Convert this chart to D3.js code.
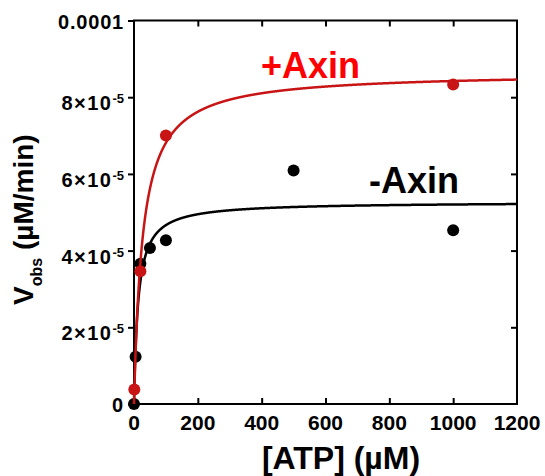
<!DOCTYPE html>
<html>
<head>
<meta charset="utf-8">
<script src="https://cdn.jsdelivr.net/npm/d3@7"></script>
<style>
  html, body { margin: 0; padding: 0; background: #fff; }
  svg { display: block; font-family: "Liberation Sans", Arial, Helvetica, sans-serif; font-weight: bold; }
</style>
</head>
<body>
<svg id="chart" width="545" height="476"></svg>
<script>
// Substrate concentrations (µM) and observed velocities (µM/min)
const atpMinus = [0, 5, 20, 50, 100, 500, 1000];
const vMinus = [0, 1.23e-5, 3.66e-5, 4.07e-5, 4.27e-5, 6.09e-5, 4.53e-5];
const atpPlus = [1, 20, 100, 1000];
const vPlus = [0.38e-5, 3.46e-5, 7.0e-5, 8.33e-5];

// Michaelis–Menten fit parameters [Vmax, Km]
const fitMinus = [5.27e-5, 13];
const fitPlus = [8.65e-5, 27];

const xTicks = [0, 200, 400, 600, 800, 1000, 1200];
const yTicks = [0, 2e-5, 4e-5, 6e-5, 8e-5, 1e-4];
const yTickMantissa = ["0", "2", "4", "6", "8", "0.0001"];

const svg = d3.select("#chart");
const plotL = 134, plotR = 517, plotT = 20.5, plotB = 404;

const x = d3.scaleLinear().domain([0, 1200]).range([plotL, plotR]);
const y = d3.scaleLinear().domain([0, 1e-4]).range([plotB, plotT]);

const red = "#c81414";

// Frame
svg.append("rect")
  .attr("x", plotL).attr("y", plotT)
  .attr("width", plotR - plotL).attr("height", plotB - plotT)
  .attr("fill", "none").attr("stroke", "#000").attr("stroke-width", 2);

// Axes: ticks only, labels drawn separately
function styleAxis(g) {
  g.select(".domain").remove();
  g.selectAll(".tick line").attr("stroke", "#000").attr("stroke-width", 2);
  g.selectAll(".tick text").remove();
}
svg.append("g").attr("transform", `translate(${plotL},0)`)
  .call(d3.axisLeft(y).tickValues(yTicks).tickSize(6)).call(styleAxis);
svg.append("g").attr("transform", `translate(${plotR},0)`)
  .call(d3.axisLeft(y).tickValues(yTicks.slice(1, -1)).tickSize(6)).call(styleAxis);
svg.append("g").attr("transform", `translate(0,${plotB})`)
  .call(d3.axisTop(x).tickValues(xTicks.slice(1, -1)).tickSize(6)).call(styleAxis);
svg.append("g").attr("transform", `translate(0,${plotT})`)
  .call(d3.axisBottom(x).tickValues(xTicks.slice(1, -1)).tickSize(6)).call(styleAxis);

// X tick labels
svg.append("g").selectAll("text").data(xTicks).join("text")
  .attr("x", d => x(d)).attr("y", 430)
  .attr("text-anchor", "middle").attr("font-size", 21)
  .text(d => d);

// Y tick labels (scientific notation with superscript exponents)
const yl = svg.append("g").selectAll("text").data(yTicks).join("text")
  .attr("text-anchor", "end").attr("font-size", 20)
  .attr("x", 124)
  .attr("y", (d, i) => y(d) + ((i === 0 || i === yTicks.length - 1) ? 8 : 13));
yl.each(function(d, i) {
  const t = d3.select(this);
  if (i === 0 || i === yTicks.length - 1) {
    t.attr("letter-spacing", 0.8).text(yTickMantissa[i]);
  } else {
    t.append("tspan").attr("letter-spacing", 1.5).text(yTickMantissa[i] + "×10");
    t.append("tspan").attr("font-size", 13).attr("dy", -7).text("-5");
  }
});

// Axis titles
svg.append("text")
  .attr("x", 341).attr("y", 469)
  .attr("text-anchor", "middle").attr("font-size", 32)
  .text("[ATP] (µM)");

const yt = svg.append("text")
  .attr("transform", "translate(33,305) rotate(-90)")
  .attr("text-anchor", "start").attr("font-size", 28);
yt.append("tspan").text("V");
yt.append("tspan").attr("font-size", 16).attr("dy", 9).text("obs");
yt.append("tspan").attr("dy", -9).text(" (µM/min)");

// Fitted curves
function mmCurve(p) {
  const [vmax, km] = p;
  const s = d3.range(0, 1200.5, 0.5);
  return s.map(v => [v, vmax * v / (km + v)]);
}
const line = d3.line().x(d => x(d[0])).y(d => y(d[1]));

svg.append("path").datum(mmCurve(fitMinus))
  .attr("d", line).attr("fill", "none").attr("stroke", "#000").attr("stroke-width", 2.5);
svg.append("g").selectAll("circle").data(atpMinus).join("circle")
  .attr("cx", d => x(d)).attr("cy", (d, i) => y(vMinus[i])).attr("r", 6)
  .attr("fill", "#000");

svg.append("path").datum(mmCurve(fitPlus))
  .attr("d", line).attr("fill", "none").attr("stroke", red).attr("stroke-width", 2.5);
svg.append("g").selectAll("circle").data(atpPlus).join("circle")
  .attr("cx", d => x(d)).attr("cy", (d, i) => y(vPlus[i])).attr("r", 6)
  .attr("fill", red);

// Series labels
svg.append("text").attr("x", 261).attr("y", 78).attr("font-size", 36)
  .attr("fill", "#ff0000").text("+Axin");
svg.append("text").attr("x", 369).attr("y", 193).attr("font-size", 36)
  .attr("fill", "#000").text("-Axin");
</script>
</body>
</html>
